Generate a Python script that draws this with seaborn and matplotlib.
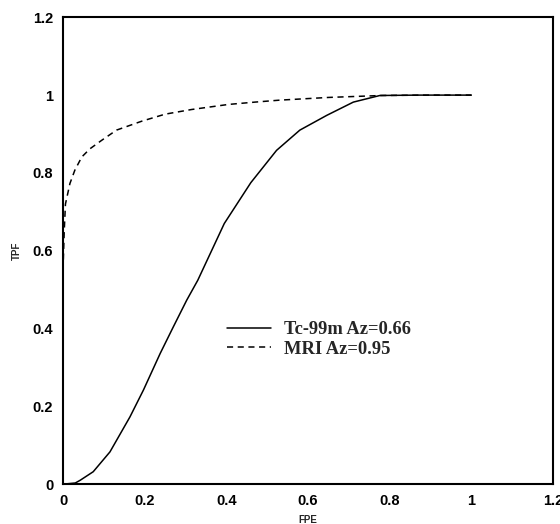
import matplotlib
matplotlib.use("Agg")
import matplotlib.pyplot as plt
import pandas as pd
import seaborn as sns

# ROC curves
TC_FPF = [0.0, 0.03, 0.042, 0.074, 0.115, 0.164, 0.197, 0.238, 0.27, 0.303,
          0.33, 0.395, 0.46, 0.523, 0.58, 0.646, 0.711, 0.776, 0.87, 1.0]
TC_TPF = [0.0, 0.003, 0.01, 0.032, 0.083, 0.173, 0.242, 0.336, 0.404, 0.473,
          0.524, 0.67, 0.775, 0.858, 0.91, 0.948, 0.982, 0.999, 1.0, 1.0]

MRI_FPF = [0.0, 0.0, 0.003, 0.006, 0.017, 0.029, 0.046, 0.066, 0.095, 0.131,
           0.193, 0.25, 0.315, 0.405, 0.47, 0.53, 0.65, 0.78, 0.9, 1.0]
MRI_TPF = [0.0, 0.55, 0.65, 0.72, 0.773, 0.807, 0.841, 0.862, 0.884, 0.91,
           0.933, 0.951, 0.963, 0.976, 0.982, 0.987, 0.994, 0.999, 1.0, 1.0]

LABELS = ["Tc-99m Az=0.66", "MRI Az=0.95"]
TICKS = [0, 0.2, 0.4, 0.6, 0.8, 1, 1.2]
TICK_LABELS = ["0", "0.2", "0.4", "0.6", "0.8", "1", "1.2"]

df = pd.concat([
    pd.DataFrame({"FPF": TC_FPF, "TPF": TC_TPF, "curve": LABELS[0]}),
    pd.DataFrame({"FPF": MRI_FPF, "TPF": MRI_TPF, "curve": LABELS[1]}),
], ignore_index=True)

sns.set_theme(style="white")
plt.rcParams["font.family"] = ["Liberation Sans", "DejaVu Sans"]

fig = plt.figure(figsize=(5.6, 5.24), dpi=100)
ax = fig.add_axes([0.1125, 0.076, 0.875, 0.891])

dash = (4, 3)
sns.lineplot(data=df, x="FPF", y="TPF", style="curve", color="black",
             estimator=None, sort=False, linewidth=1.1,
             dashes={LABELS[0]: "", LABELS[1]: dash}, legend=False, ax=ax)

ax.set_xlim(0, 1.2)
ax.set_ylim(0, 1.2)
ax.set_xticks(TICKS)
ax.set_xticklabels(TICK_LABELS)
ax.set_yticks(TICKS)
ax.set_yticklabels(TICK_LABELS)
ax.tick_params(direction="in", length=3, width=1, colors="black",
               labelsize=10.5, pad=7)
for lab in ax.get_xticklabels() + ax.get_yticklabels():
    lab.set_fontweight("bold")
for sp in ax.spines.values():
    sp.set_color("black")
    sp.set_linewidth(1.5)

ax.set_xlabel("FPE", fontsize=7, fontweight="bold", labelpad=5)
ax.set_ylabel("TPF", fontsize=7, fontweight="bold", labelpad=8)

handles = [plt.Line2D([], [], color="black", lw=1.1),
           plt.Line2D([], [], color="black", lw=1.1, ls=(0, dash))]
ax.legend(handles, LABELS, loc="center left", bbox_to_anchor=(0.30, 0.31),
          frameon=False, handlelength=2.4, handletextpad=0.7,
          labelspacing=0.15,
          prop={"family": "Liberation Serif", "weight": "bold", "size": 13.3})

fig.savefig("out.png", dpi=100)
